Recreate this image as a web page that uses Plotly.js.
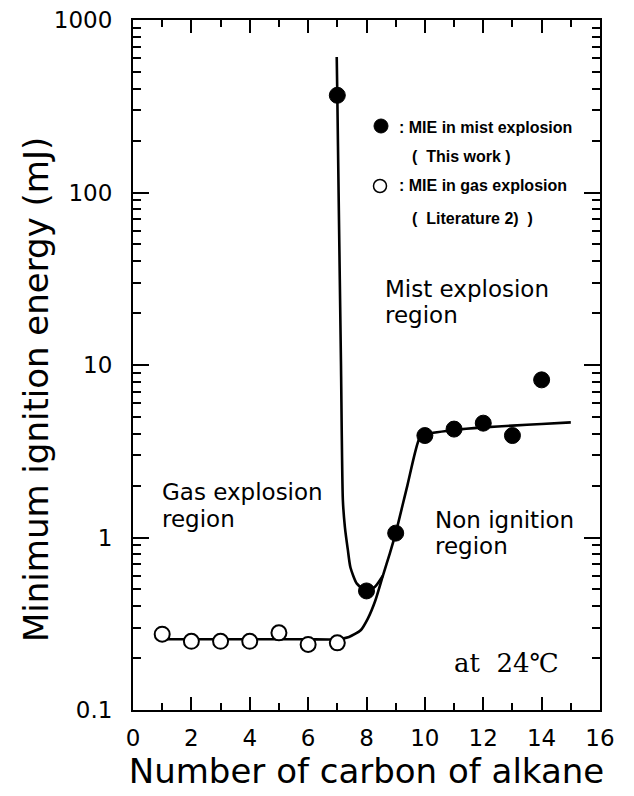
<!DOCTYPE html>
<html>
<head>
<meta charset="utf-8">
<script src="https://cdn.plot.ly/plotly-3.0.1.min.js"></script>
<style>html,body{margin:0;padding:0;background:#fff;}#chart{width:634px;height:796px;}</style>
</head>
<body>
<div id="chart"></div>
<script>
// ---- data ----
const carbonGas = [1, 2, 3, 4, 5, 6, 7];
const mieGas = [0.275, 0.25, 0.25, 0.25, 0.28, 0.24, 0.245];

const carbonMist = [7, 8, 9, 10, 11, 12, 13, 14];
const mieMist = [366, 0.49, 1.06, 3.9, 4.25, 4.6, 3.9, 8.2];

// hand-drawn guide curves
const gasCurveX = [1, 2, 3, 4, 5, 6, 7, 7.4, 7.8, 8.05, 8.3, 8.56, 8.8, 9, 9.4, 9.8, 10, 11, 12, 13, 14, 15];
const gasCurveY = [0.257, 0.257, 0.257, 0.257, 0.257, 0.257, 0.257, 0.265, 0.29, 0.34, 0.43, 0.6, 0.81, 1.06, 2.0, 3.7, 3.95, 4.2, 4.35, 4.45, 4.55, 4.65];

const mistCurveX = [6.98, 7.0, 7.044, 7.126, 7.19, 7.26, 7.36, 7.45, 7.67, 8.0, 8.3, 8.56];
const mistCurveY = [610, 366, 100, 10, 1.65, 1.15, 0.85, 0.67, 0.54, 0.49, 0.52, 0.6];

const xTickVals = [0, 2, 4, 6, 8, 10, 12, 14, 16];
const yTickVals = [0.1, 1, 10, 100, 1000];
const yTickText = ["0.1", "1", "10", "100", "1000"];

const xTitle = "Number of carbon of alkane";
const yTitle = "Minimum ignition energy (mJ)";
const legendMist = [": MIE in mist explosion", "(\u00A0 This work\u00A0)"];
const legendGas = [": MIE in gas explosion", "(\u00A0 Literature 2)\u00A0 )"];
const tempLabel = "at\u00A0 24℃";

// ---- layout helpers (pixel -> paper) ----
const L = 133, R = 600, T = 20, B = 710;
const px = v => (v - L) / (R - L);
const py = v => (B - v) / (B - T);
const SANS = "DejaVu Sans, Liberation Sans, Arial, sans-serif";
const LEG = "Liberation Sans, Arial, sans-serif";

function label(text, x, yBase, size, extra) {
  return Object.assign({
    text: text, xref: "paper", yref: "paper",
    x: px(x), y: py(yBase - 0.36 * size),
    xanchor: "left", yanchor: "middle", showarrow: false,
    font: {family: SANS, size: size, color: "#000"}
  }, extra || {});
}
const legFont = {family: LEG, size: 16, color: "#000", weight: "bold"};

const traces = [
  {x: gasCurveX, y: gasCurveY, mode: "lines", line: {color: "#000", width: 2.6, shape: "spline", smoothing: 0.6}, hoverinfo: "skip"},
  {x: mistCurveX, y: mistCurveY, mode: "lines", line: {color: "#000", width: 2.6, shape: "spline", smoothing: 0.6}, hoverinfo: "skip"},
  {x: carbonGas, y: mieGas, mode: "markers", name: "gas",
   marker: {symbol: "circle", size: 15, color: "#fff", line: {color: "#000", width: 2}}},
  {x: carbonMist, y: mieMist, mode: "markers", name: "mist",
   marker: {symbol: "circle", size: 16, color: "#000", line: {color: "#000", width: 1}}}
];

const axisCommon = {
  showline: true, linecolor: "#000", linewidth: 2, mirror: "ticks",
  ticks: "inside", tickcolor: "#000", tickwidth: 2,
  showgrid: false, zeroline: false,
  tickfont: {family: SANS, size: 23, color: "#000"}
};

const layout = {
  width: 634, height: 796,
  margin: {l: L, r: 634 - R, t: T, b: 796 - B},
  paper_bgcolor: "#fff", plot_bgcolor: "#fff",
  showlegend: false,
  font: {family: SANS, color: "#000"},
  xaxis: Object.assign({}, axisCommon, {
    range: [0, 16], tickmode: "array", tickvals: xTickVals,
    ticklen: 13, ticklabelstandoff: 6,
    minor: {ticks: "inside", ticklen: 7, tickwidth: 2, tickcolor: "#000", dtick: 1, showgrid: false},
    title: {text: xTitle, font: {family: SANS, size: 34, color: "#000"}, standoff: 6}
  }),
  yaxis: Object.assign({}, axisCommon, {
    type: "log", range: [-1, 3], tickmode: "array", tickvals: yTickVals, ticktext: yTickText,
    ticklen: 16, ticklabelstandoff: 14,
    minor: {ticks: "inside", ticklen: 8, tickwidth: 2, tickcolor: "#000", dtick: "D1", showgrid: false},
    title: {text: ""}
  }),
  shapes: [
    {type: "circle", xref: "paper", yref: "paper", xsizemode: "pixel", ysizemode: "pixel",
     xanchor: px(381), yanchor: py(126), x0: -7, x1: 7, y0: -7, y1: 7,
     fillcolor: "#000", line: {color: "#000", width: 1}},
    {type: "circle", xref: "paper", yref: "paper", xsizemode: "pixel", ysizemode: "pixel",
     xanchor: px(380), yanchor: py(186), x0: -6.5, x1: 6.5, y0: -6.5, y1: 6.5,
     fillcolor: "#fff", line: {color: "#000", width: 1.5}}
  ],
  annotations: [
    // y axis title
    {text: yTitle, xref: "paper", yref: "paper", x: px(36), y: py(390), xanchor: "center", yanchor: "middle",
     textangle: -90, showarrow: false, font: {family: SANS, size: 34, color: "#000"}},
    // legend text
    label(legendMist[0], 397, 133, 16, {font: legFont}),
    label(legendMist[1], 410, 162, 16, {font: legFont}),
    label(legendGas[0], 397, 191, 16, {font: legFont}),
    label(legendGas[1], 410, 224, 16, {font: legFont}),
    // region labels
    label("Mist explosion", 383, 297, 23),
    label("region", 383, 323, 23),
    label("Gas explosion", 160, 500, 23),
    label("region", 160, 527, 23),
    label("Non ignition", 433, 528, 23),
    label("region", 433, 554, 23),
    label(tempLabel, 452, 672, 26, {font: {family: "DejaVu Serif, Liberation Serif, serif", size: 26, color: "#000"}})
  ]
};

Plotly.newPlot("chart", traces, layout, {staticPlot: true, displayModeBar: false});
</script>
</body>
</html>
